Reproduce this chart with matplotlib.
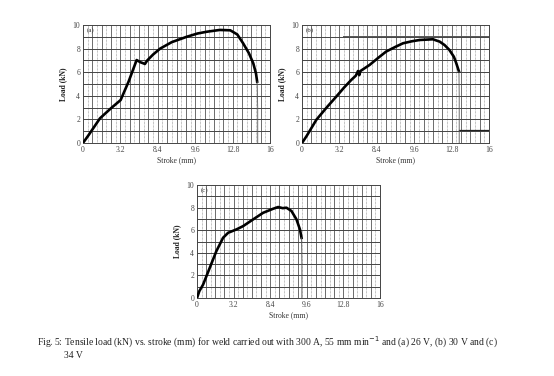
import matplotlib
matplotlib.use("Agg")
from matplotlib import pyplot as plt
import numpy as np

# (a) 26 V
a_x = [0, 0.5, 1.45, 2.4, 3.22, 3.9, 4.59, 4.9, 5.3, 5.5, 6.0, 6.6, 7.6, 8.87, 9.8, 10.6, 11.7, 12.6, 13.2, 13.7, 14.2, 14.57, 14.8, 14.9]
a_y = [0, 0.7, 2.09, 2.95, 3.64, 5.2, 7.03, 6.85, 6.7, 7.0, 7.5, 8.0, 8.55, 9.0, 9.28, 9.43, 9.58, 9.55, 9.2, 8.45, 7.6, 6.75, 5.9, 5.2]
a_drop_x = [14.9, 14.95, 14.95]
a_drop_y = [5.2, 3.0, 0]

# (b) 30 V
b_x = [0, 0.4, 1.23, 2.1, 2.94, 3.6, 4.22, 4.6, 4.79, 4.9, 5.0, 5.79, 6.5, 7.2, 8.0, 8.64, 9.4, 10.07, 11.2, 11.78, 12.2, 12.6, 13.0, 13.2, 13.43]
b_y = [0, 0.6, 1.97, 3.0, 3.94, 4.7, 5.35, 5.7, 6.1, 5.75, 6.1, 6.62, 7.2, 7.75, 8.15, 8.45, 8.62, 8.73, 8.79, 8.59, 8.3, 7.9, 7.3, 6.76, 6.06]
b_drop_x = [13.43, 13.45, 13.45]
b_drop_y = [6.06, 4.0, 0]
b_step_x = [3.5, 16]
b_step_y = [9.07, 9.07]
b_tail_x = [13.45, 16]
b_tail_y = [1.13, 1.13]

# (c) 34 V
c_x = [0, 0.2, 0.53, 1.11, 1.69, 2.28, 2.72, 3.45, 4.03, 4.9, 5.78, 6.66, 7.1, 7.5, 7.82, 8.26, 8.7, 9.0, 9.14]
c_y = [0, 0.6, 1.18, 2.66, 4.14, 5.33, 5.77, 6.07, 6.36, 6.95, 7.54, 7.9, 8.05, 7.95, 7.99, 7.7, 6.95, 6.07, 5.33]
c_drop_x = [9.14, 9.17, 9.17]
c_drop_y = [5.33, 3.0, 0]

x_ticks = [0, 3.2, 6.4, 9.6, 12.8, 16]
x_tick_labels = ['0', '3.2', '8.4', '9.6', '12.8', '16']
y_ticks = [0, 2, 4, 6, 8, 10]

plt.rcParams['font.family'] = ['Liberation Serif', 'DejaVu Serif']

fig = plt.figure(figsize=(5.54, 3.76), dpi=100)


def setup(ax, tag):
    ax.set_xlim(0, 16)
    ax.set_ylim(0, 10)
    # grid: solid every 0.8 / dotted in between, solid every 1 on y
    for gx in np.arange(0.8, 16, 0.8):
        ax.axvline(gx, color='#555555', lw=0.6, zorder=1)
    for gx in np.arange(0.4, 16, 0.8):
        ax.axvline(gx, color='#888888', lw=0.5, ls=(0, (1, 1)), zorder=1)
    for gy in np.arange(1, 10, 1):
        ax.axhline(gy, color='#444444', lw=0.7, zorder=1)
    ax.set_xticks(x_ticks)
    ax.set_xticklabels(x_tick_labels)
    ax.set_yticks(y_ticks)
    ax.tick_params(length=0, pad=2, labelsize=5.5, colors='#444444')
    for s in ax.spines.values():
        s.set_color('#444444')
        s.set_linewidth(0.7)
    ax.set_xlabel('Stroke (mm)', fontsize=5.5, color='#333333', labelpad=2)
    ax.set_ylabel('Load (kN)', fontsize=5.5, color='#222222', labelpad=4, fontweight='bold')
    ax.text(0.3, 9.55, tag, fontsize=5, color='#333333', va='center', ha='left')


ax1 = fig.add_axes([83 / 554, 1 - 143 / 376, 187 / 554, 118 / 376])
setup(ax1, '(a)')
ax1.plot(a_x, a_y, color='black', lw=1.9, solid_joinstyle='round', zorder=3)
ax1.plot(a_drop_x, a_drop_y, color='#555555', lw=0.6, zorder=3)

ax2 = fig.add_axes([302 / 554, 1 - 143 / 376, 187 / 554, 118 / 376])
setup(ax2, '(b)')
ax2.plot(b_x, b_y, color='black', lw=1.9, solid_joinstyle='round', zorder=3)
ax2.plot(b_drop_x, b_drop_y, color='#555555', lw=0.6, zorder=3)
ax2.plot(b_step_x, b_step_y, color='#555555', lw=0.7, zorder=2)
ax2.plot(b_tail_x, b_tail_y, color='#222222', lw=0.9, zorder=2)

ax3 = fig.add_axes([197 / 554, 1 - 298 / 376, 183 / 554, 113 / 376])
setup(ax3, '(c)')
ax3.plot(c_x, c_y, color='black', lw=1.9, solid_joinstyle='round', zorder=3)
ax3.plot(c_drop_x, c_drop_y, color='#555555', lw=0.6, zorder=3)

fig.text(37 / 554, 1 - 342 / 376,
         'Fig. 5: Tensile load (kN) vs. stroke (mm) for weld carried out with 300 A, 55 mm min$^{-1}$ '
         'and (a) 26 V, (b) 30 V and (c)',
         fontsize=6.9, color='#222222', va='center', ha='left')
fig.text(64 / 554, 1 - 355 / 376, '34 V', fontsize=6.9, color='#222222', va='center', ha='left')

fig.savefig('out.png', dpi=100)
